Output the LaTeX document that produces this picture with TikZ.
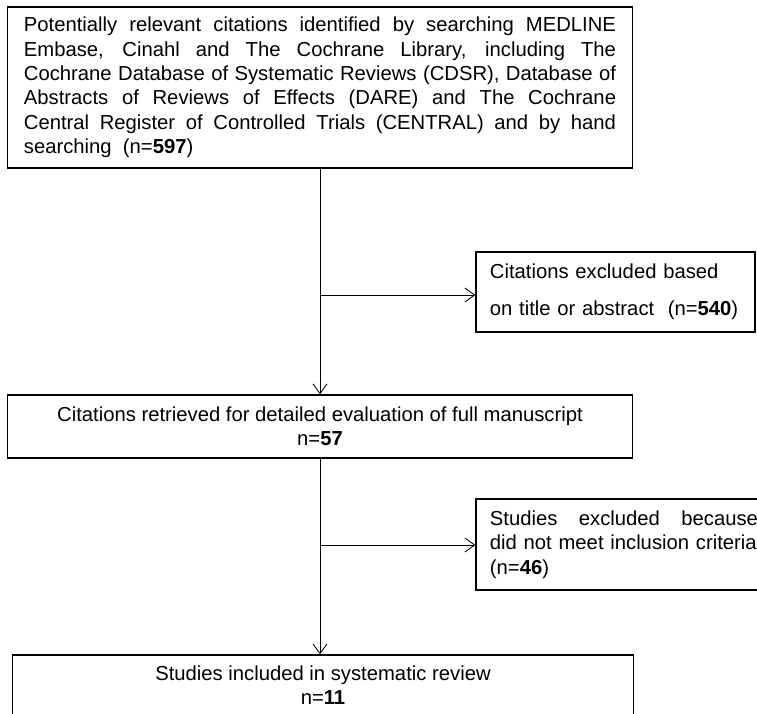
\documentclass[tikz,border=0pt]{standalone}
\usepackage{fontspec}
\setmainfont{Liberation Sans}
\usetikzlibrary{arrows.meta,positioning}

\begin{document}
\begin{tikzpicture}[
  x=0.025cm,y=-0.025cm,
  box/.style={draw,rectangle,line width=0.8pt,inner sep=0pt,font=\fontsize{14.4}{17.4}\selectfont},
  arr/.style={-{Straight Barb[length=7pt,width=10pt]},line width=0.6pt}
]
\useasboundingbox (0,0) rectangle (757,713);

\node[box,minimum width=15.6cm,minimum height=4.025cm,text width=14.8cm,align=justify] (search) at (320,87.5)
  {\tolerance=10000 Potentially relevant citations identified by searching MEDLINE\linebreak Embase, Cinahl and The Cochrane Library, including The\linebreak Cochrane Database of Systematic Reviews (CDSR), Database of\linebreak Abstracts of Reviews of Effects (DARE) and The Cochrane\linebreak Central Register of Controlled Trials (CENTRAL) and by hand\linebreak searching~ (n=\textbf{597})};
\node[box,minimum width=6.975cm,minimum height=2cm,text width=6.275cm,align=left,font=\fontsize{14.4}{26.3}\selectfont] (excltitle) at (615.5,292)
  {Citations excluded based\\on title or abstract~ (n=\textbf{540})};
\node[box,minimum width=15.6cm,minimum height=1.575cm,align=center] (retrieved) at (320,426.5)
  {Citations retrieved for detailed evaluation of full manuscript\\n=\textbf{57}};
\node[box,minimum width=7.4cm,minimum height=2.275cm,text width=6.7cm,align=left] (exclcrit) at (624,544.5)
  {Studies\hfill excluded\hfill because\\did not meet inclusion criteria\\(n=\textbf{46})};
\node[box,minimum width=15.5cm,minimum height=1.5cm,align=center] (included) at (323,685)
  {Studies included in systematic review\\n=\textbf{11}};

\coordinate (c1) at (320,295);
\coordinate (c2) at (320,545);

\draw[arr] (search) -- (retrieved);
\draw[arr] (c1) -- (c1 -| excltitle.west);
\draw[arr] (retrieved) -- (retrieved.south |- included.north);
\draw[arr] (c2) -- (c2 -| exclcrit.west);

\end{tikzpicture}
\end{document}
